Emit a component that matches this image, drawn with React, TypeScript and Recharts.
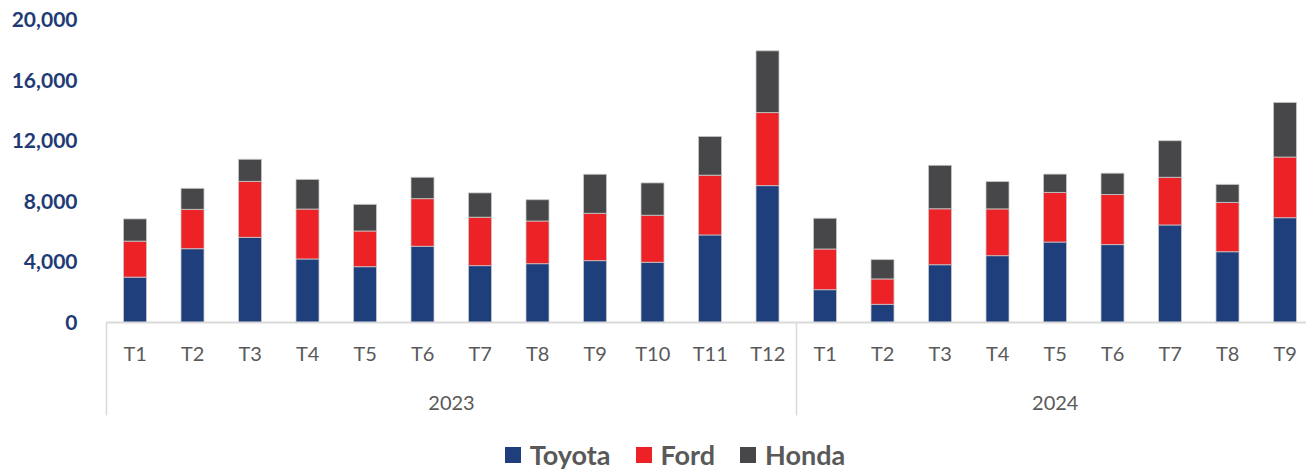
import { BarChart, Bar, XAxis, YAxis } from "recharts";

const months = [
  "T1", "T2", "T3", "T4", "T5", "T6", "T7", "T8", "T9", "T10", "T11", "T12",
  "T1", "T2", "T3", "T4", "T5", "T6", "T7", "T8", "T9",
];
const years = ["2023", "2024"];
const monthsPerYear = [12, 9];

const toyota = [
  3000, 4880, 5630, 4200, 3690, 5040, 3760, 3890, 4090, 3980, 5790, 9050,
  2170, 1200, 3820, 4420, 5320, 5150, 6450, 4680, 6930,
];
const ford = [
  2380, 2600, 3700, 3300, 2360, 3150, 3200, 2820, 3130, 3110, 3950, 4830,
  2690, 1680, 3700, 3090, 3280, 3310, 3150, 3260, 4010,
];
const honda = [
  1470, 1390, 1460, 1960, 1760, 1410, 1610, 1410, 2580, 2140, 2560, 4080,
  2030, 1280, 2870, 1810, 1210, 1410, 2420, 1190, 3610,
];

const yTicks = [0, 4000, 8000, 12000, 16000, 20000];

const series = [
  { key: "toyota", name: "Toyota", color: "#1F3F7C" },
  { key: "ford", name: "Ford", color: "#EC2226" },
  { key: "honda", name: "Honda", color: "#474749" },
];

// build rows, remembering where each year group starts
const yearOf: string[] = [];
const groupStart: boolean[] = [];
const groupSize: number[] = [];
years.forEach((y, gi) => {
  for (let i = 0; i < monthsPerYear[gi]; i++) {
    yearOf.push(y);
    groupStart.push(i === 0);
    groupSize.push(monthsPerYear[gi]);
  }
});

const data = months.map((m, i) => ({
  key: `${yearOf[i]}-${m}`,
  month: m,
  year: yearOf[i],
  toyota: toyota[i],
  ford: ford[i],
  honda: honda[i],
}));

const FONT = "Lato, 'Open Sans', sans-serif";

function MonthTick(props: any) {
  const { x, y, payload } = props;
  const idx =
    payload.index ?? data.findIndex((d) => d.key === payload.value);
  const row = data[idx];
  const half = payload.offset || 28.75;
  const left = x - half;
  return (
    <g>
      <text
        x={x}
        y={y + 38}
        textAnchor="middle"
        fill="#595959"
        fontSize={20}
        fontFamily={FONT}
      >
        {row.month}
      </text>
      {groupStart[idx] && (
        <>
          <line x1={left} x2={left} y1={y} y2={y + 93} stroke="#d9d9d9" strokeWidth={1.5} />
          <text
            x={left + groupSize[idx] * half}
            y={y + 87}
            textAnchor="middle"
            fill="#595959"
            fontSize={20}
            fontFamily={FONT}
          >
            {row.year}
          </text>
        </>
      )}
    </g>
  );
}

export default function App() {
  return (
    <div
      style={{
        position: "absolute",
        left: 0,
        top: 0,
        width: 1306,
        height: 470,
        overflow: "hidden",
        background: "#fff",
        fontFamily: FONT,
      }}
    >
      <BarChart
        width={1320}
        height={470}
        data={data}
        margin={{ top: 20, right: 6, left: 0, bottom: 47.5 }}
      >
        <YAxis
          domain={[0, 20000]}
          ticks={yTicks}
          width={106.5}
          axisLine={false}
          tickLine={false}
          tickSize={0}
          tickMargin={29}
          tickFormatter={(v: number) => v.toLocaleString("en-US")}
          tick={{ fill: "#1F3B76", fontSize: 21, fontWeight: 700 }}
        />
        <XAxis
          dataKey="key"
          height={100}
          interval={0}
          tickLine={false}
          tickSize={0}
          tickMargin={0}
          axisLine={{ stroke: "#d9d9d9", strokeWidth: 2 }}
          tick={<MonthTick />}
        />
        {series.map((s) => (
          <Bar
            key={s.key}
            dataKey={s.key}
            name={s.name}
            stackId="a"
            fill={s.color}
            stroke="#c9c9c9"
            strokeWidth={0.8}
            barSize={23}
            isAnimationActive={false}
          />
        ))}
      </BarChart>
      <div
        style={{
          position: "absolute",
          top: 440,
          left: 0,
          width: 1306,
          paddingLeft: 44,
          boxSizing: "border-box",
          display: "flex",
          justifyContent: "center",
          alignItems: "center",
          gap: 25,
        }}
      >
        {series.map((s) => (
          <div key={s.key} style={{ display: "flex", alignItems: "center" }}>
            <span
              style={{
                display: "inline-block",
                width: 16,
                height: 16,
                background: s.color,
                marginRight: 9,
              }}
            />
            <span style={{ fontSize: 27, fontWeight: 700, color: "#595959", lineHeight: "30px" }}>
              {s.name}
            </span>
          </div>
        ))}
      </div>
    </div>
  );
}
